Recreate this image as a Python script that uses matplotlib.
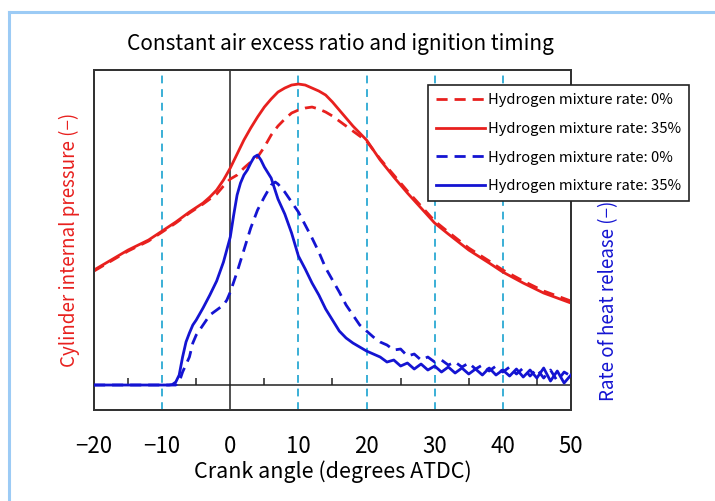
import matplotlib
matplotlib.use('Agg')
import matplotlib.pyplot as plt
from matplotlib.lines import Line2D
import numpy as np

# crank angle (degrees ATDC) and cylinder pressure (arbitrary units)
press_angle = [-20, -17, -15, -12, -10, -8, -6, -4, -3, -2, -1, 0, 1, 2, 3, 4, 5,
               6, 7, 8, 9, 10, 11, 12, 13, 14, 15, 16, 17, 18, 19, 20, 21, 22,
               24, 26, 28, 30, 32, 35, 38, 40, 43, 46, 48, 50]
press_35 = [14.0, 15.2, 16.0, 17.0, 17.9, 18.8, 19.8, 20.7, 21.3, 22.0, 23.0,
            24.2, 25.6, 27.0, 28.2, 29.3, 30.3, 31.1, 31.8, 32.2, 32.5, 32.6,
            32.5, 32.2, 31.9, 31.5, 30.8, 30.0, 29.2, 28.4, 27.7, 27.0, 26.0,
            25.0, 23.3, 21.7, 20.2, 18.7, 17.6, 16.0, 14.7, 13.8, 12.7, 11.7,
            11.2, 10.7]
press_0 = [13.9, 15.1, 15.9, 16.9, 17.8, 18.7, 19.7, 20.6, 21.1, 21.6, 22.4,
           23.1, 23.5, 24.2, 24.8, 25.3, 26.3, 27.5, 28.4, 29.1, 29.7, 30.0,
           30.2, 30.3, 30.1, 29.8, 29.4, 28.9, 28.4, 27.9, 27.4, 26.9, 26.0,
           25.1, 23.5, 21.9, 20.4, 18.9, 17.8, 16.2, 14.9, 14.0, 12.9, 11.9,
           11.4, 10.9]

# rate of heat release (arbitrary units)
hr35_angle = [-20, -9, -8.5, -8, -7.5, -7, -6.5, -6, -5.5, -5, -4.5, -4, -3, -2,
              -1, 0, 0.5, 1, 1.5, 2, 2.5, 3, 3.5, 4, 4.5, 5, 6, 7, 8, 9, 10,
              11, 12, 13, 14, 15, 16, 17, 18, 19, 20, 21, 22, 23, 24, 25, 26,
              27, 28, 29, 30, 31, 32, 33, 34, 35, 36, 37, 38, 39, 40, 41, 42,
              43, 44, 45, 46, 47, 48, 49, 50]
hr35 = [0, 0, 0.05, 0.3, 1.0, 2.8, 4.3, 5.2, 6.0, 6.5, 7.1, 7.7, 9.0, 10.4,
        12.3, 14.8, 17.0, 19.0, 20.2, 21.0, 21.5, 22.2, 22.8, 23.0, 22.5, 21.8,
        20.7, 18.6, 17.1, 15.2, 12.9, 11.6, 10.2, 9.0, 7.6, 6.5, 5.4, 4.7, 4.2,
        3.8, 3.4, 3.1, 2.8, 2.3, 2.5, 1.9, 2.2, 1.6, 2.1, 1.5, 1.9, 1.3, 1.8,
        1.2, 1.7, 1.1, 1.6, 1.0, 1.7, 1.0, 1.5, 0.9, 1.6, 0.8, 1.5, 0.7, 1.7,
        0.4, 1.4, 0.2, 1.0]

hr0_angle = [-20, -8, -7.5, -7, -6, -5.5, -5, -4, -3, -2, -1, -0.5, 0, 1, 2, 3,
             4, 5, 6, 6.6, 7, 8, 9, 10, 11, 12, 13, 14, 15, 16, 17, 18, 19, 20,
             21, 22, 23, 24, 25, 26, 27, 28, 29, 30, 31, 32, 33, 34, 35, 36, 37,
             38, 39, 40, 41, 42, 43, 44, 45, 46, 47, 48, 49, 50]
hr0 = [0, 0, 0.3, 1.3, 2.8, 4.2, 5.0, 6.0, 7.0, 7.5, 8.0, 8.5, 9.3, 11.3, 13.5,
       15.7, 17.5, 18.8, 20.0, 20.3, 20.1, 19.3, 18.3, 17.3, 16.0, 14.7, 13.3,
       11.7, 10.5, 9.3, 8.0, 7.0, 6.0, 5.4, 4.8, 4.3, 4.0, 3.5, 3.6, 2.9, 3.1,
       2.5, 2.8, 2.3, 2.5, 2.0, 2.3, 1.8, 2.2, 1.6, 2.0, 1.4, 1.9, 1.3, 1.8,
       1.1, 1.7, 0.9, 1.6, 0.7, 1.5, 0.4, 1.3, 0.9]

xticks = [-20, -10, 0, 10, 20, 30, 40, 50]
grid_angles = [-10, 10, 20, 30, 40]
zero_ticks = [-15, -5, 5, 15, 25, 35, 45]
legend_labels = ['Hydrogen mixture rate: 0%', 'Hydrogen mixture rate: 35%',
                 'Hydrogen mixture rate: 0%', 'Hydrogen mixture rate: 35%']

RED = '#e8201e'
BLUE = '#1414d2'
GRID = '#3aafd6'

plt.rcParams['font.family'] = ['Noto Sans CJK JP', 'DejaVu Sans']

fig = plt.figure(figsize=(7.15, 5.01), dpi=100)
ax = fig.add_axes([0.1315, 0.1816, 0.667, 0.6786])
ax2 = ax.twinx()

# light blue page border
fig.add_artist(Line2D([9 / 715, 1], [1 - 12 / 501, 1 - 12 / 501],
                      color='#9ccbf5', lw=2.2, transform=fig.transFigure))
fig.add_artist(Line2D([9 / 715, 9 / 715], [0, 1 - 12 / 501],
                      color='#9ccbf5', lw=2.2, transform=fig.transFigure))

for g in grid_angles:
    ax.axvline(g, color=GRID, lw=1.4, dashes=(4, 3), zorder=1)
ax.axvline(0, color='#222222', lw=1.1, zorder=1)

d_dash = (4, 2.5)
l1, = ax.plot(press_angle, press_0, color=RED, lw=2.0, dashes=d_dash, zorder=3)
l2, = ax.plot(press_angle, press_35, color=RED, lw=2.0, zorder=3)

ax2.axhline(0, color='#222222', lw=1.1, zorder=1)
ax2.plot(zero_ticks, np.zeros(len(zero_ticks)), linestyle='none', marker=2,
         ms=5, mew=1.1, color='#222222')
l3, = ax2.plot(hr0_angle, hr0, color=BLUE, lw=2.0, dashes=d_dash, zorder=3)
l4, = ax2.plot(hr35_angle, hr35, color=BLUE, lw=2.0, zorder=3)

ax.set_xlim(-20, 50)
ax.set_ylim(0, 34)
ax2.set_ylim(-2.5, 31.5)

ax.set_xticks(xticks)
ax.set_xticklabels([str(t).replace('-', '\u2212') for t in xticks], fontsize=16)
ax.tick_params(axis='x', length=0, pad=18)
ax.set_yticks([])
ax2.set_yticks([])

for a in (ax, ax2):
    for s in a.spines.values():
        s.set_color('#333333')
        s.set_linewidth(1.4)

ax.set_xlabel('Crank angle (degrees ATDC)', fontsize=15.5, labelpad=2)
ax.set_ylabel('Cylinder internal pressure (\u2212)', color=RED, fontsize=13.5)
ax.yaxis.set_label_coords(-0.03, 0.5)
ax2.set_ylabel('Rate of heat release (\u2212)', color=BLUE, fontsize=13.5)
ax2.yaxis.set_label_coords(1.058, 0.32)

ax.text(0.516, 1.045, 'Constant air excess ratio and ignition timing',
        transform=ax.transAxes, ha='center', va='bottom', fontsize=15)

leg = fig.legend([l1, l2, l3, l4], legend_labels, loc='upper left',
                 bbox_to_anchor=(428 / 715, 1 - 85 / 501), fontsize=10.6,
                 frameon=True, fancybox=False, edgecolor='#222222',
                 framealpha=1, handlelength=3.3, handletextpad=0.2,
                 borderpad=0.55, labelspacing=1.0, borderaxespad=0)
leg.get_frame().set_linewidth(1.2)

fig.savefig('out.png', dpi=100)
